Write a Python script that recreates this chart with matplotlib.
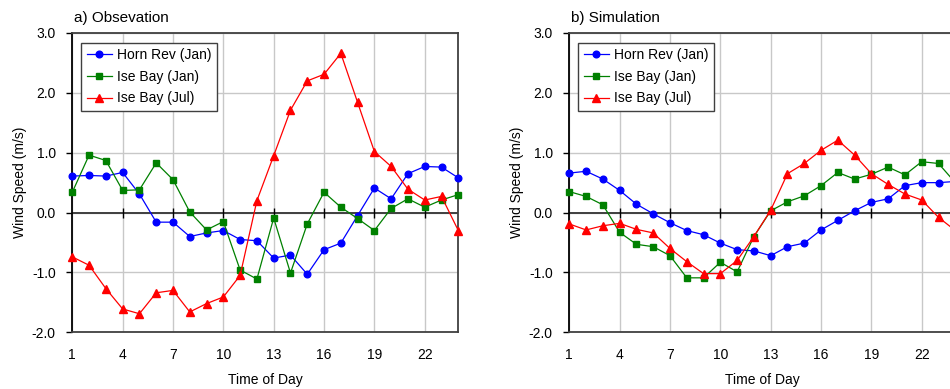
import matplotlib
matplotlib.use("Agg")
import matplotlib.pyplot as plt
from matplotlib.ticker import FormatStrFormatter

hours = list(range(1, 25))
xticks = [1, 4, 7, 10, 13, 16, 19, 22]
yticks = [-2.0, -1.0, 0.0, 1.0, 2.0, 3.0]

obs_horn_jan = [0.61, 0.62, 0.61, 0.67, 0.31, -0.16, -0.16, -0.40, -0.34, -0.30,
                -0.45, -0.47, -0.76, -0.71, -1.03, -0.62, -0.51, -0.05, 0.41, 0.23,
                0.65, 0.77, 0.76, 0.58]
obs_ise_jan = [0.34, 0.96, 0.87, 0.37, 0.38, 0.83, 0.55, 0.01, -0.29, -0.15,
               -0.96, -1.11, -0.09, -1.01, -0.19, 0.34, 0.09, -0.10, -0.30, 0.07,
               0.23, 0.09, 0.21, 0.30]
obs_ise_jul = [-0.74, -0.88, -1.27, -1.61, -1.69, -1.34, -1.30, -1.66, -1.52, -1.41,
               -1.05, 0.20, 0.95, 1.71, 2.20, 2.31, 2.66, 1.84, 1.02, 0.77,
               0.39, 0.21, 0.27, -0.30]

sim_horn_jan = [0.66, 0.69, 0.56, 0.37, 0.14, -0.02, -0.17, -0.30, -0.37, -0.51,
                -0.62, -0.64, -0.72, -0.57, -0.51, -0.29, -0.13, 0.03, 0.17, 0.23,
                0.45, 0.50, 0.50, 0.52]
sim_ise_jan = [0.35, 0.27, 0.13, -0.33, -0.53, -0.57, -0.72, -1.09, -1.09, -0.83,
               -0.99, -0.40, 0.03, 0.18, 0.28, 0.45, 0.67, 0.56, 0.64, 0.76,
               0.63, 0.85, 0.82, 0.50]
sim_ise_jul = [-0.19, -0.29, -0.22, -0.18, -0.28, -0.34, -0.60, -0.82, -1.02, -1.02,
               -0.80, -0.40, 0.04, 0.65, 0.82, 1.04, 1.21, 0.96, 0.65, 0.47,
               0.31, 0.21, -0.08, -0.30]

labels = ["Horn Rev (Jan)", "Ise Bay (Jan)", "Ise Bay (Jul)"]
colors = ["#0000FF", "#008000", "#FF0000"]
markers = ["o", "s", "^"]
msizes = [4.8, 4.8, 5.6]

plt.rcParams['font.family'] = ['Liberation Sans', 'DejaVu Sans']
plt.rcParams['font.size'] = 10

W, H = 950, 389
fig = plt.figure(figsize=(W / 100, H / 100), dpi=100)

panels = [
    ("a) Obsevation", [obs_horn_jan, obs_ise_jan, obs_ise_jul], 72.3),
    ("b) Simulation", [sim_horn_jan, sim_ise_jan, sim_ise_jul], 569.3),
]
ax_w, ax_top, ax_bot = 386.0, 33.0, 332.3

for title, series, left in panels:
    ax = fig.add_axes([left / W, (H - ax_bot) / H, ax_w / W, (ax_bot - ax_top) / H])
    ax.set_xlim(1, 24)
    ax.set_ylim(-2, 3)
    ax.set_xticks(xticks)
    ax.set_yticks(yticks)
    ax.yaxis.set_major_formatter(FormatStrFormatter('%.1f'))
    ax.grid(True, color='#c8c8c8', lw=1.0, zorder=0)
    ax.set_axisbelow(True)
    ax.axhline(0, color='#404040', lw=1.4, zorder=1)
    ax.plot(xticks[1:], [0] * len(xticks[1:]), ls='none', marker='|', ms=7,
            mew=1.0, color='black', zorder=1)
    for s, lab, c, m, ms in zip(series, labels, colors, markers, msizes):
        ax.plot(hours, s, color=c, marker=m, ms=ms, lw=0.9, label=lab,
                clip_on=False, zorder=3)
    ax.tick_params(axis='x', length=0, pad=11, labelsize=10)
    ax.tick_params(axis='y', direction='out', length=4, width=1, pad=8, labelsize=10)
    for sp in ['top', 'right', 'bottom']:
        ax.spines[sp].set_color('#404040')
        ax.spines[sp].set_linewidth(1.3)
    ax.spines['left'].set_color('black')
    ax.spines['left'].set_linewidth(1.3)
    ax.set_title(title, loc='left', fontsize=11, pad=8, x=0.005)
    ax.set_ylabel("Wind Speed (m/s)", fontsize=10, labelpad=3)
    ax.set_xlabel("Time of Day", fontsize=10, labelpad=8)
    leg = ax.legend(loc='upper left', bbox_to_anchor=(0.0225, 0.968), borderaxespad=0,
                    fancybox=False, framealpha=1, edgecolor='#404040',
                    handlelength=1.8, handletextpad=0.4, labelspacing=0.55,
                    borderpad=0.4, fontsize=10)
    leg.get_frame().set_linewidth(1.0)

fig.savefig("out.png", dpi=100)
